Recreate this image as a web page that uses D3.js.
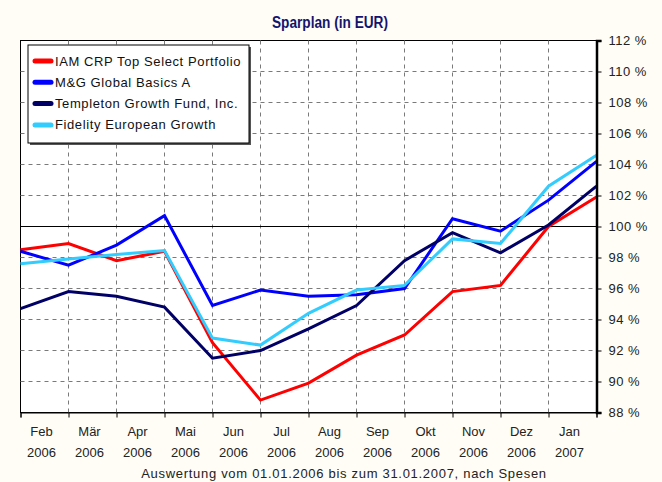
<!DOCTYPE html>
<html>
<head>
<meta charset="utf-8">
<script src="https://cdn.jsdelivr.net/npm/d3@7"></script>
<style>
  body { margin: 0; background: #fffdf6; }
  svg { display: block; font-family: "Liberation Sans", Arial, sans-serif; }
</style>
</head>
<body>
<div id="chart"></div>
<script>
// Monatslabels (zwischen den Datenpunkten)
const months = ["Feb", "Mär", "Apr", "Mai", "Jun", "Jul", "Aug", "Sep", "Okt", "Nov", "Dez", "Jan"];
const years = ["2006", "2006", "2006", "2006", "2006", "2006", "2006", "2006", "2006", "2006", "2006", "2007"];
const yTicks = [88, 90, 92, 94, 96, 98, 100, 102, 104, 106, 108, 110, 112];

// Werte in % (13 Stichtage)
const iamValues = [98.5, 98.9, 97.8, 98.4, 92.5, 88.8, 89.9, 91.7, 93.0, 95.8, 96.2, 100.0, 101.9];
const mgValues = [98.4, 97.5, 98.8, 100.7, 94.9, 95.9, 95.5, 95.6, 96.0, 100.5, 99.7, 101.7, 104.2];
const templetonValues = [94.7, 95.8, 95.5, 94.8, 91.5, 92.0, 93.4, 94.9, 97.8, 99.6, 98.3, 100.1, 102.6];
const fidelityValues = [97.6, 97.9, 98.2, 98.45, 92.8, 92.35, 94.4, 95.9, 96.2, 99.2, 98.9, 102.6, 104.6];

const seriesNames = ["IAM CRP Top Select Portfolio", "M&G Global Basics A", "Templeton Growth Fund, Inc.", "Fidelity European Growth"];

const series = [
    { name: seriesNames[0], values: iamValues, color: "#ff0000" },
    { name: seriesNames[1], values: mgValues, color: "#0000ff" },
    { name: seriesNames[2], values: templetonValues, color: "#000066" },
    { name: seriesNames[3], values: fidelityValues, color: "#33ccff" }
];

const W = 662, H = 482;
const plot = { left: 20.5, right: 596.5, top: 40.5, bottom: 412.5 };

const svg = d3.select("#chart").append("svg")
    .attr("width", W)
    .attr("height", H);

svg.append("rect").attr("width", W).attr("height", H).attr("fill", "#fffdf6");

const x = d3.scaleLinear().domain([0, 12]).range([plot.left, plot.right]);
const y = d3.scaleLinear().domain([88, 112]).range([plot.bottom, plot.top]);

// Plot area
svg.append("rect")
    .attr("x", plot.left)
    .attr("y", plot.top)
    .attr("width", plot.right - plot.left)
    .attr("height", plot.bottom - plot.top)
    .attr("fill", "#ffffff")
    .attr("stroke", "#000")
    .attr("stroke-width", 1);

// Grid lines
svg.append("g")
    .selectAll("line")
    .data(yTicks.filter(d => d !== 88 && d !== 112 && d !== 100))
    .join("line")
    .attr("x1", plot.left)
    .attr("x2", plot.right)
    .attr("y1", d => y(d))
    .attr("y2", d => y(d))
    .attr("stroke", "#7a7a7a")
    .attr("stroke-dasharray", "4,4");

svg.append("g")
    .selectAll("line")
    .data(d3.range(1, 12))
    .join("line")
    .attr("x1", d => x(d))
    .attr("x2", d => x(d))
    .attr("y1", plot.top)
    .attr("y2", plot.bottom)
    .attr("stroke", "#7a7a7a")
    .attr("stroke-dasharray", "4,4");

// 100 % line
svg.append("line")
    .attr("x1", plot.left)
    .attr("x2", plot.right)
    .attr("y1", y(100))
    .attr("y2", y(100))
    .attr("stroke", "#000")
    .attr("stroke-width", 1);

// Series
const line = d3.line()
    .x((d, i) => x(i))
    .y(d => y(d));

svg.append("g")
    .selectAll("path")
    .data(series)
    .join("path")
    .attr("d", d => line(d.values))
    .attr("fill", "none")
    .attr("stroke", d => d.color)
    .attr("stroke-width", 3)
    .attr("stroke-linejoin", "miter");

// X axis ticks
const xAxis = svg.append("g")
    .attr("transform", `translate(0,${plot.bottom})`)
    .call(d3.axisBottom(x).tickValues(d3.range(0, 13)).tickSize(5).tickFormat(""));
xAxis.select(".domain").attr("stroke", "#000");

svg.append("g")
    .selectAll("text")
    .data(months)
    .join("text")
    .attr("x", (d, i) => x(i + 0.5) - 3)
    .attr("y", 436)
    .attr("text-anchor", "middle")
    .style("font-size", "13px")
    .attr("fill", "#222")
    .text(d => d);

svg.append("g")
    .selectAll("text")
    .data(years)
    .join("text")
    .attr("x", (d, i) => x(i + 0.5) - 3)
    .attr("y", 457)
    .attr("text-anchor", "middle")
    .style("font-size", "13px")
    .attr("fill", "#222")
    .text(d => d);

// Y axis on the right
const yAxis = svg.append("g")
    .attr("transform", `translate(${plot.right},0)`)
    .call(d3.axisRight(y).tickValues(yTicks).tickSize(5).tickPadding(7).tickFormat(d => d + " %"));
yAxis.select(".domain").attr("stroke-width", 2.5);
yAxis.selectAll("text")
    .style("font-size", "13px")
    .style("letter-spacing", "0.5px")
    .attr("fill", "#222");

// Title
svg.append("text")
    .attr("x", 330)
    .attr("y", 28)
    .attr("text-anchor", "middle")
    .attr("textLength", 116)
    .attr("lengthAdjust", "spacingAndGlyphs")
    .style("font-size", "16px")
    .style("font-weight", "bold")
    .attr("fill", "#14146e")
    .text("Sparplan (in EUR)");

// Legend
const legend = svg.append("g").attr("transform", "translate(28,45)");
legend.append("rect")
    .attr("x", 2).attr("y", 2)
    .attr("width", 221).attr("height", 98)
    .attr("fill", "#555");
legend.append("rect")
    .attr("width", 221).attr("height", 98)
    .attr("fill", "#fff")
    .attr("stroke", "#000")
    .attr("stroke-width", 1);

const item = legend.selectAll("g.item")
    .data(series)
    .join("g")
    .attr("class", "item")
    .attr("transform", (d, i) => `translate(0,${16 + i * 21.3})`);
item.append("line")
    .attr("x1", 7).attr("x2", 23)
    .attr("stroke", d => d.color)
    .attr("stroke-width", 5)
    .attr("stroke-linecap", "round");
item.append("text")
    .attr("x", 27)
    .attr("dy", "0.35em")
    .style("font-size", "13px")
    .style("letter-spacing", "0.6px")
    .attr("fill", "#111")
    .text(d => d.name);

// Footnote
svg.append("text")
    .attr("x", 344)
    .attr("y", 478)
    .attr("text-anchor", "middle")
    .style("font-size", "13px")
    .style("letter-spacing", "0.7px")
    .attr("fill", "#222")
    .text("Auswertung vom 01.01.2006 bis zum 31.01.2007, nach Spesen");
</script>
</body>
</html>
